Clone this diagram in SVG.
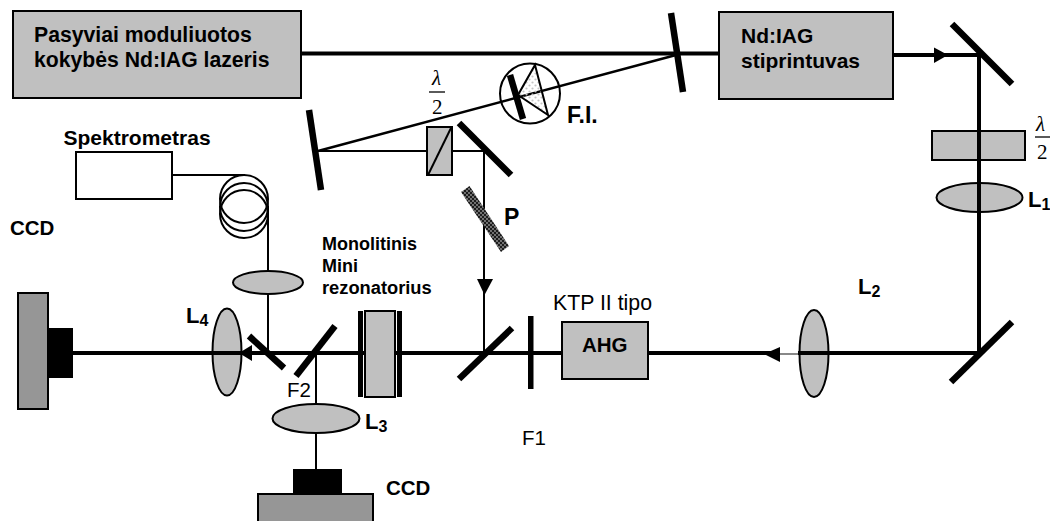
<svg xmlns="http://www.w3.org/2000/svg" width="1050" height="521" viewBox="0 0 1050 521">
<defs>
<pattern id="hatch" width="4" height="4" patternUnits="userSpaceOnUse"><rect width="4" height="4" fill="#1c1c1c"/><circle cx="1" cy="1" r="0.9" fill="#999"/><circle cx="3" cy="3" r="0.9" fill="#999"/></pattern>
<pattern id="dots" width="6" height="6" patternUnits="userSpaceOnUse"><circle cx="1.500" cy="1.500" r="1.100" fill="#c4c4c4"/><circle cx="4.500" cy="4.500" r="1.100" fill="#c4c4c4"/></pattern>
</defs>
<style>
text{font-family:"Liberation Sans",Arial,sans-serif;font-weight:bold;fill:#000}
.n{font-weight:normal}
.s{font-family:"Liberation Serif","Times New Roman",serif;font-weight:normal}
.m{stroke:#000;stroke-width:6.500;fill:none}
.b{stroke:#000;stroke-width:4;fill:none}
.t{stroke:#000;stroke-width:2;fill:none}
.g{fill:#c0c0c0;stroke:#000;stroke-width:2}
.d{fill:#969696;stroke:#000;stroke-width:2}
.r{stroke:#000;stroke-width:1.300}
</style>
<g id="laser"><rect class="g" x="13" y="11" width="288" height="87"/><text x="34" y="42" font-size="21.200">Pasyviai moduliuotos</text><text x="34" y="67" font-size="21.200">kokybės Nd:IAG lazeris</text></g>
<g id="amplifier"><rect class="g" x="719" y="12" width="174" height="87"/><text x="741" y="43" font-size="21">Nd:IAG</text><text x="741" y="68" font-size="21">stiprintuvas</text></g>
<g id="waveplate-right"><rect class="g" x="932" y="131" width="93" height="29"/><text class="s" x="1036" y="131" font-size="21" font-style="italic">λ</text><path class="r" d="M1035 137H1050"/><text class="s" x="1037" y="159" font-size="21">2</text></g>
<g id="lens-L1"><ellipse class="g" cx="979.500" cy="197.500" rx="43" ry="14.500"/><text x="1028" y="207" font-size="22">L<tspan font-size="16" dy="3">1</tspan></text></g>
<g id="lens-L2"><ellipse class="g" cx="814" cy="353.500" rx="14.500" ry="43.500"/><text x="858" y="294" font-size="22">L<tspan font-size="16" dy="3">2</tspan></text></g>
<g id="lens-L4"><ellipse class="g" cx="227" cy="352" rx="14.500" ry="43.500"/><text x="186" y="323" font-size="22">L<tspan font-size="16" dy="3">4</tspan></text></g>
<g id="lens-L3"><ellipse class="g" cx="316" cy="418.500" rx="43.500" ry="14.500"/><text x="365" y="429" font-size="22">L<tspan font-size="16" dy="3">3</tspan></text></g>
<g id="lens-top"><ellipse class="g" cx="268" cy="282.500" rx="35" ry="11.500"/></g>
<g id="connectors">
<path class="b" d="M301 53.500H719"/>
<path class="b" d="M893 55H979V353"/>
<path class="b" d="M979 353H798"/>
<path stroke="#888" stroke-width="2" fill="none" d="M798 354H780"/>
<path class="b" d="M780 353H73"/>
<path stroke="#000" stroke-width="2.500" fill="none" d="M677 54.700L318 151"/>
<path class="t" d="M318 151H484V353"/>
<path class="t" d="M172 175H245"/>
<path class="t" d="M268 206V271M268 294V353"/>
<path class="t" d="M316 353V404M316 433V469"/>
<path d="M948 55L934 47.500V63Z"/>
<path d="M764 354L780 347V362Z"/>
<path d="M484.500 295L477 279H493Z"/>
<path d="M239 353L252 345V361Z"/>
</g>
<g id="mirror-top"><path class="m" d="M671 13L683 92"/></g>
<g id="mirror-right-top"><path class="m" d="M952 24L1012 84"/></g>
<g id="mirror-right-bottom"><path class="m" d="M1012 322L951 382"/></g>
<g id="fi"><circle cx="530" cy="93.500" r="30" fill="none" stroke="#000" stroke-width="2"/><path d="M535 65L548 115L518 95Z" fill="url(#dots)"/><path class="t" d="M535 65L548 115L518 95Z"/><path class="m" d="M510 75L523 119"/><text x="567" y="123" font-size="23">F.I.</text></g>
<g id="mirror-left"><path class="m" d="M309 110L321 190"/></g>
<g id="waveplate-left"><rect class="g" x="427" y="127" width="25" height="48"/><path class="t" d="M428 175L451 128"/><text class="s" x="432" y="85" font-size="21" font-style="italic">λ</text><path class="r" d="M429 92H445"/><text class="s" x="432" y="114" font-size="21">2</text></g>
<g id="mirror-mid"><path class="m" d="M459 123L511 175"/></g>
<g id="polarizer"><path d="M461 192L469.500 186L509 246L501 252Z" fill="url(#hatch)"/><text x="504" y="225" font-size="23">P</text></g>
<g id="spectrometer"><rect x="76" y="152" width="96" height="47" fill="#fff" stroke="#000" stroke-width="2"/><text x="63.500" y="145" font-size="21">Spektrometras</text></g>
<g id="fiber"><circle cx="244" cy="199" r="24" fill="none" stroke="#000" stroke-width="2"/><circle cx="244" cy="207" r="24" fill="none" stroke="#000" stroke-width="2"/><circle cx="244" cy="214" r="24" fill="none" stroke="#000" stroke-width="2"/></g>
<g id="ccd-left"><rect class="d" x="18" y="293" width="30" height="116"/><rect x="48" y="328" width="25" height="50"/><text x="10" y="235" font-size="20.500">CCD</text></g>
<g id="mirror-a"><path class="m" d="M249 336L284 368"/></g>
<g id="mirror-F2"><path class="m" d="M335 326L296 376"/><text class="n" x="287" y="397" font-size="20.500">F2</text></g>
<g id="resonator"><rect class="g" x="365" y="311" width="30" height="86"/><rect x="358" y="311" width="5" height="86"/><rect x="397" y="311" width="5" height="86"/><text x="322" y="250" font-size="18">Monolitinis</text><text x="322" y="272" font-size="18">Mini</text><text x="322" y="294" font-size="18.300">rezonatorius</text></g>
<g id="ccd-bottom"><rect class="d" x="258" y="494" width="115" height="28"/><rect x="293" y="469" width="49" height="25"/><text x="386" y="495" font-size="20.500">CCD</text></g>
<g id="mirror-b"><path class="m" d="M512 328L459 379"/></g>
<g id="filter-F1"><rect x="528" y="316" width="5.500" height="73"/><text class="n" x="522" y="445" font-size="20.500">F1</text></g>
<g id="ahg"><rect class="g" x="562" y="322" width="86" height="57"/><text x="582" y="352" font-size="20.500">AHG</text><text class="n" x="553" y="310" font-size="21.300">KTP II tipo</text></g>
</svg>
